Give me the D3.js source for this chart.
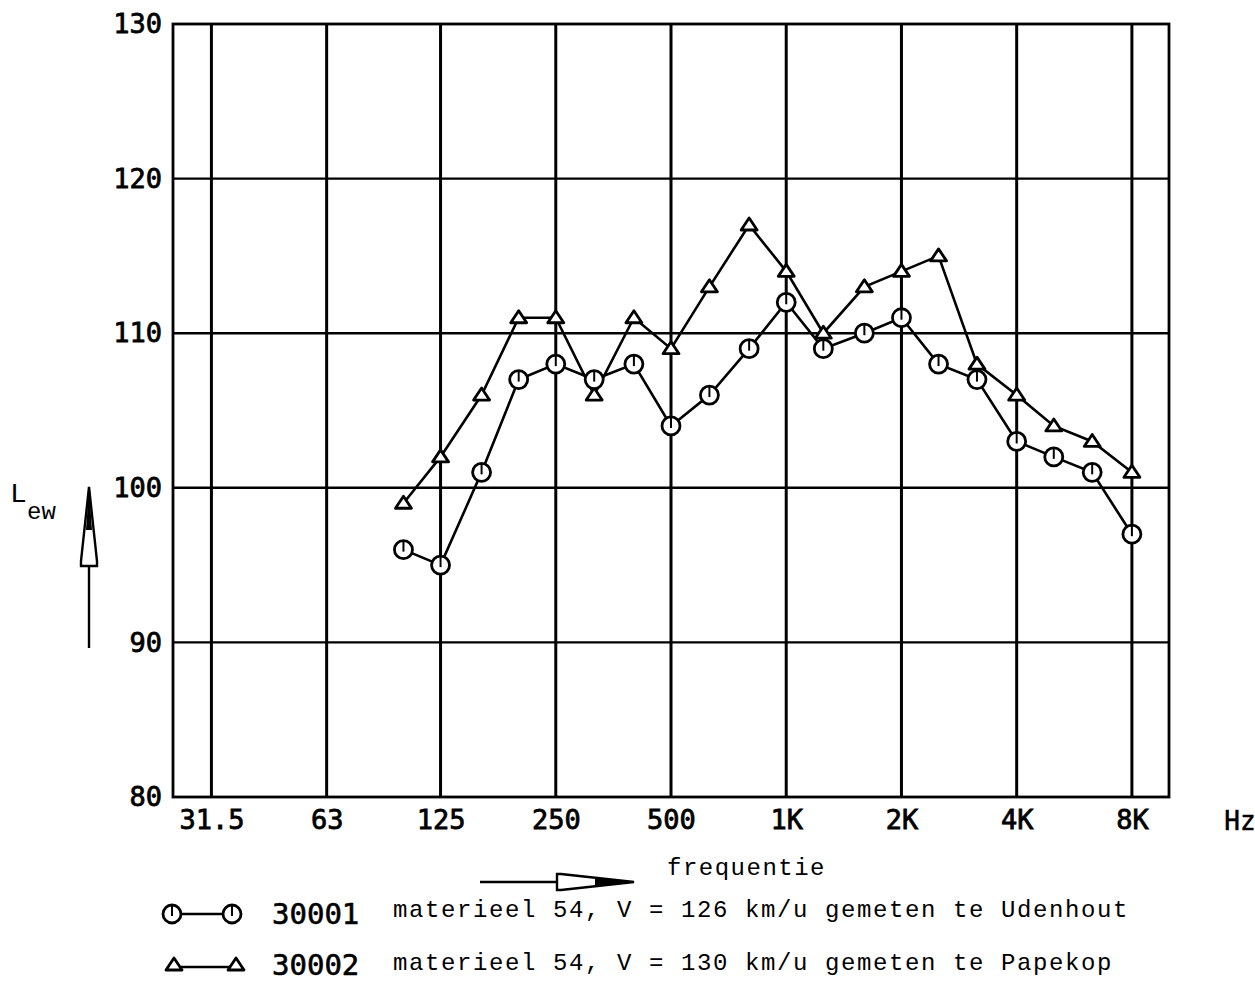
<!DOCTYPE html>
<html>
<head>
<meta charset="utf-8">
<script src="https://cdn.jsdelivr.net/npm/d3@7/dist/d3.min.js"></script>
<style>
  html, body { margin: 0; padding: 0; background: #fff; }
  svg { display: block; }
  .plot { font-family: "DejaVu Sans Mono", monospace; }
  .type { font-family: "Liberation Mono", "Courier New", monospace; }
</style>
</head>
<body>
<svg id="chart" width="1255" height="983"></svg>
<script>
// ---- data ----
const bandFreqs = [100, 125, 160, 200, 250, 315, 400, 500, 630, 800, 1000, 1250, 1600, 2000, 2500, 3150, 4000, 5000, 6300, 8000];
const series30001 = [96, 95, 101, 107, 108, 107, 108, 104, 106, 109, 112, 109, 110, 111, 108, 107, 103, 102, 101, 97];
const series30002 = [99, 102, 106, 111, 111, 106, 111, 109, 113, 117, 114, 110, 113, 114, 115, 108, 106, 104, 103, 101];
const octaveFreqs = [31.5, 63, 125, 250, 500, 1000, 2000, 4000, 8000];
const octaveLabels = ["31.5", "63", "125", "250", "500", "1K", "2K", "4K", "8K"];
const yTicks = [80, 90, 100, 110, 120, 130];
const legendCodes = ["30001", "30002"];
const legendTexts = [
  "materieel 54, V = 126 km/u gemeten te Udenhout",
  "materieel 54, V = 130 km/u gemeten te Papekop"
];

// ---- layout ----
const L = 173, R = 1169, T = 24, B = 797;
const svg = d3.select("#chart");
const x = d3.scaleLog().domain([25, 10000]).range([L, R]);
const y = d3.scaleLinear().domain([80, 130]).range([B, T]);

// gridlines
svg.append("g").selectAll("line").data(octaveFreqs).join("line")
  .attr("x1", d => x(d)).attr("x2", d => x(d))
  .attr("y1", T).attr("y2", B)
  .attr("stroke", "#000").attr("stroke-width", 3);
svg.append("g").selectAll("line").data(yTicks.slice(1, -1)).join("line")
  .attr("x1", L).attr("x2", R)
  .attr("y1", d => y(d)).attr("y2", d => y(d))
  .attr("stroke", "#000").attr("stroke-width", 2.4);
// frame
svg.append("rect").attr("x", L).attr("y", T).attr("width", R - L).attr("height", B - T)
  .attr("fill", "none").attr("stroke", "#000").attr("stroke-width", 2.8);

// x axis labels (via d3 axis)
const xAxis = d3.axisBottom(x).tickValues(octaveFreqs)
  .tickFormat((d, i) => octaveLabels[i]).tickSize(0).tickPadding(0);
const gx = svg.append("g").attr("class", "plot").attr("transform", `translate(0,${B})`).call(xAxis);
gx.select(".domain").remove();
gx.selectAll("text").attr("font-size", 27).attr("fill", "#000")
  .attr("font-family", "DejaVu Sans Mono, monospace")
  .attr("stroke", "#000").attr("stroke-width", 0.8)
  .attr("dy", null).attr("y", 32);
svg.append("text").attr("class", "plot").attr("x", 1240).attr("y", 830)
  .attr("text-anchor", "middle").attr("font-size", 26)
  .attr("stroke", "#000").attr("stroke-width", 0.5).text("Hz");

// y axis labels
const yAxis = d3.axisLeft(y).tickValues(yTicks).tickFormat(d3.format("d")).tickSize(0).tickPadding(11);
const gy = svg.append("g").attr("class", "plot").attr("transform", `translate(${L},0)`).call(yAxis);
gy.select(".domain").remove();
gy.selectAll("text").attr("font-size", 27).attr("fill", "#000")
  .attr("font-family", "DejaVu Sans Mono, monospace")
  .attr("stroke", "#000").attr("stroke-width", 0.8).attr("dy", "0.32em");

// lines
const line = d3.line().x((d, i) => x(bandFreqs[i])).y(d => y(d));
[series30001, series30002].forEach(s => {
  svg.append("path").datum(s).attr("d", line)
    .attr("fill", "none").attr("stroke", "#000").attr("stroke-width", 2.6);
});

// markers
function circleMarker(g, cx, cy) {
  g.append("circle").attr("cx", cx).attr("cy", cy).attr("r", 9)
    .attr("fill", "#fff").attr("stroke", "#000").attr("stroke-width", 2.8);
  g.append("line").attr("x1", cx).attr("x2", cx).attr("y1", cy - 9).attr("y2", cy + 2)
    .attr("stroke", "#000").attr("stroke-width", 2);
}
function triMarker(g, cx, cy) {
  g.append("path")
    .attr("d", `M${cx - 8},${cy + 5} L${cx + 8},${cy + 5} L${cx},${cy - 7} Z`)
    .attr("fill", "#fff").attr("stroke", "#000").attr("stroke-width", 2.8)
    .attr("stroke-linejoin", "round");
}
const gm = svg.append("g");
series30002.forEach((v, i) => triMarker(gm, x(bandFreqs[i]), y(v)));
series30001.forEach((v, i) => circleMarker(gm, x(bandFreqs[i]), y(v)));

// y-axis title with arrow
svg.append("text").attr("class", "type").attr("x", 10).attr("y", 502)
  .attr("font-size", 28).text("L");
svg.append("text").attr("class", "type").attr("x", 27).attr("y", 519)
  .attr("font-size", 24).text("ew");
svg.append("line").attr("x1", 89).attr("x2", 89).attr("y1", 563).attr("y2", 648)
  .attr("stroke", "#000").attr("stroke-width", 2.4);
svg.append("path").attr("d", "M89,487 L97,561 L97,566 L81,566 L81,561 Z")
  .attr("fill", "#fff").attr("stroke", "#000").attr("stroke-width", 2.4);
svg.append("path").attr("d", "M89,487 L92,530 L86,530 Z").attr("fill", "#000");

// x-axis title with arrow
svg.append("text").attr("class", "type").attr("x", 667).attr("y", 875)
  .attr("font-size", 24).attr("letter-spacing", 1.5).text("frequentie");
svg.append("line").attr("x1", 480).attr("x2", 558).attr("y1", 882).attr("y2", 882)
  .attr("stroke", "#000").attr("stroke-width", 2.4);
svg.append("path").attr("d", "M634,882 L561,890 L557,890 L557,874 L561,874 Z")
  .attr("fill", "#fff").attr("stroke", "#000").attr("stroke-width", 2.4);
svg.append("path").attr("d", "M634,882 L595,878 L595,886 Z").attr("fill", "#000");

// legend
const legRows = [914, 965];
svg.append("line").attr("x1", 180).attr("x2", 223).attr("y1", legRows[0]).attr("y2", legRows[0])
  .attr("stroke", "#000").attr("stroke-width", 2.4);
circleMarker(svg, 172, legRows[0]);
circleMarker(svg, 232, legRows[0]);
svg.append("line").attr("x1", 178).attr("x2", 232).attr("y1", legRows[1] + 2).attr("y2", legRows[1] + 2)
  .attr("stroke", "#000").attr("stroke-width", 2.4);
triMarker(svg, 174, legRows[1]);
triMarker(svg, 236, legRows[1]);

svg.append("g").selectAll("text").data(legendCodes).join("text")
  .attr("class", "plot").attr("x", 272).attr("y", (d, i) => legRows[i] + 10)
  .attr("font-size", 29).attr("stroke", "#000").attr("stroke-width", 0.6).text(d => d);
svg.append("g").selectAll("text").data(legendTexts).join("text")
  .attr("class", "type").attr("x", 393).attr("y", (d, i) => legRows[i] + 3 + i * 2)
  .attr("font-size", 24).attr("letter-spacing", 1.6).text(d => d);
</script>
</body>
</html>
